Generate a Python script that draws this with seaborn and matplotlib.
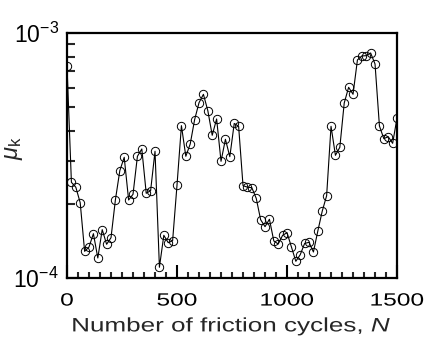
import matplotlib
matplotlib.use("Agg")
import matplotlib.pyplot as plt
import matplotlib.ticker as mticker
from matplotlib.patheffects import AbstractPathEffect
from matplotlib.transforms import Affine2D
import seaborn as sns
import pandas as pd

cycles = [0, 20, 40, 60, 80, 100, 120, 140, 160, 180,
          200, 220, 240, 260, 280, 300, 320, 340, 360, 380,
          400, 420, 440, 460, 480, 500, 520, 540, 560, 580,
          600, 620, 640, 660, 680, 700, 720, 740, 760, 780,
          800, 820, 840, 860, 880, 900, 920, 940, 960, 980,
          1000, 1020, 1040, 1060, 1080, 1100, 1120, 1140, 1160, 1180,
          1200, 1220, 1240, 1260, 1280, 1300, 1320, 1340, 1360, 1380,
          1400, 1420, 1440, 1460, 1480, 1500]
mu_k = [7.35e-4, 2.46e-4, 2.35e-4, 2.03e-4, 1.285e-4, 1.339e-4, 1.517e-4, 1.207e-4, 1.576e-4, 1.373e-4,
        1.461e-4, 2.089e-4, 2.745e-4, 3.113e-4, 2.083e-4, 2.198e-4, 3.143e-4, 3.367e-4, 2.219e-4, 2.274e-4,
        3.295e-4, 1.106e-4, 1.494e-4, 1.394e-4, 1.420e-4, 2.399e-4, 4.193e-4, 3.143e-4, 3.528e-4, 4.436e-4,
        5.204e-4, 5.632e-4, 4.828e-4, 3.830e-4, 4.465e-4, 2.998e-4, 3.688e-4, 3.131e-4, 4.28e-4, 4.168e-4,
        2.384e-4, 2.350e-4, 2.339e-4, 2.117e-4, 1.731e-4, 1.621e-4, 1.738e-4, 1.416e-4, 1.377e-4, 1.494e-4,
        1.531e-4, 1.339e-4, 1.170e-4, 1.245e-4, 1.384e-4, 1.399e-4, 1.277e-4, 1.556e-4, 1.875e-4, 2.168e-4,
        4.168e-4, 3.172e-4, 3.421e-4, 5.190e-4, 6.015e-4, 5.632e-4, 7.782e-4, 8.08e-4, 8.10e-4, 8.31e-4,
        7.49e-4, 4.18e-4, 3.71e-4, 3.78e-4, 3.55e-4, 4.51e-4]
x_ticks = [0, 500, 1000, 1500]
x_tick_labels = ["0", "500", "1000", "1500"]


class HStretch(AbstractPathEffect):
    """Stretch text glyphs horizontally about their centre."""
    def __init__(self, sx):
        super().__init__()
        self.sx = sx

    def draw_path(self, renderer, gc, tpath, affine, rgbFace=None):
        ext = tpath.get_extents(affine)
        cx = 0.5 * (ext.x0 + ext.x1)
        new = affine + Affine2D().translate(-cx, 0).scale(self.sx, 1).translate(cx, 0)
        renderer.draw_path(gc, tpath, new, rgbFace)


sns.set_style("ticks")
plt.rcParams["font.family"] = ["Liberation Sans", "DejaVu Sans"]
plt.rcParams["mathtext.fontset"] = "custom"
plt.rcParams["mathtext.rm"] = "Liberation Sans"
plt.rcParams["mathtext.it"] = "Liberation Sans:italic"
plt.rcParams["mathtext.default"] = "regular"

df = pd.DataFrame({"N": cycles, "mu": mu_k})

fig = plt.figure(figsize=(4.26, 3.39), dpi=100)
ax = fig.add_axes([0.1573, 0.18, 0.7747, 0.7218])

sns.lineplot(data=df, x="N", y="mu", ax=ax, color="black", linewidth=0.8,
             marker="o", markersize=6.0, markerfacecolor="none",
             markeredgecolor="black", markeredgewidth=0.7, estimator=None)

ax.set_yscale("log")
ax.set_xlim(0, 1500)
ax.set_ylim(1e-4, 1e-3)
ax.set_xticks(x_ticks)
ax.set_xticklabels(x_tick_labels)
ax.xaxis.set_minor_locator(mticker.MultipleLocator(50))
ax.yaxis.set_major_locator(mticker.LogLocator(base=10, numticks=5))
ax.yaxis.set_major_formatter(mticker.LogFormatterSciNotation())
ax.yaxis.set_minor_locator(mticker.LogLocator(base=10, subs=range(2, 10), numticks=10))
ax.yaxis.set_minor_formatter(mticker.NullFormatter())

for s in ax.spines.values():
    s.set_linewidth(1.6)
    s.set_color("black")

ax.tick_params(axis="both", which="major", direction="in", length=9.5, width=1.5,
               colors="black")
ax.tick_params(axis="x", which="major", labelsize=12.8, pad=10.5)
ax.tick_params(axis="y", which="major", labelsize=16.5, pad=6)
ax.tick_params(axis="x", which="minor", direction="in", length=4.3, width=1.5)
ax.tick_params(axis="y", which="minor", direction="in", length=6, width=1.5)
ax.tick_params(top=False, right=False, which="both")

for t in ax.xaxis.get_major_ticks():
    t.label1.set_path_effects([HStretch(1.38)])

xl = ax.set_xlabel("Number of friction cycles, $\\it{N}$", fontsize=14, labelpad=5)
xl.set_path_effects([HStretch(1.34)])
ax.set_ylabel("$\\it{\\mu}_{\\rm k}$", fontsize=17)
ax.yaxis.set_label_coords(-0.127, 0.53)

fig.savefig("out.png", dpi=100)
